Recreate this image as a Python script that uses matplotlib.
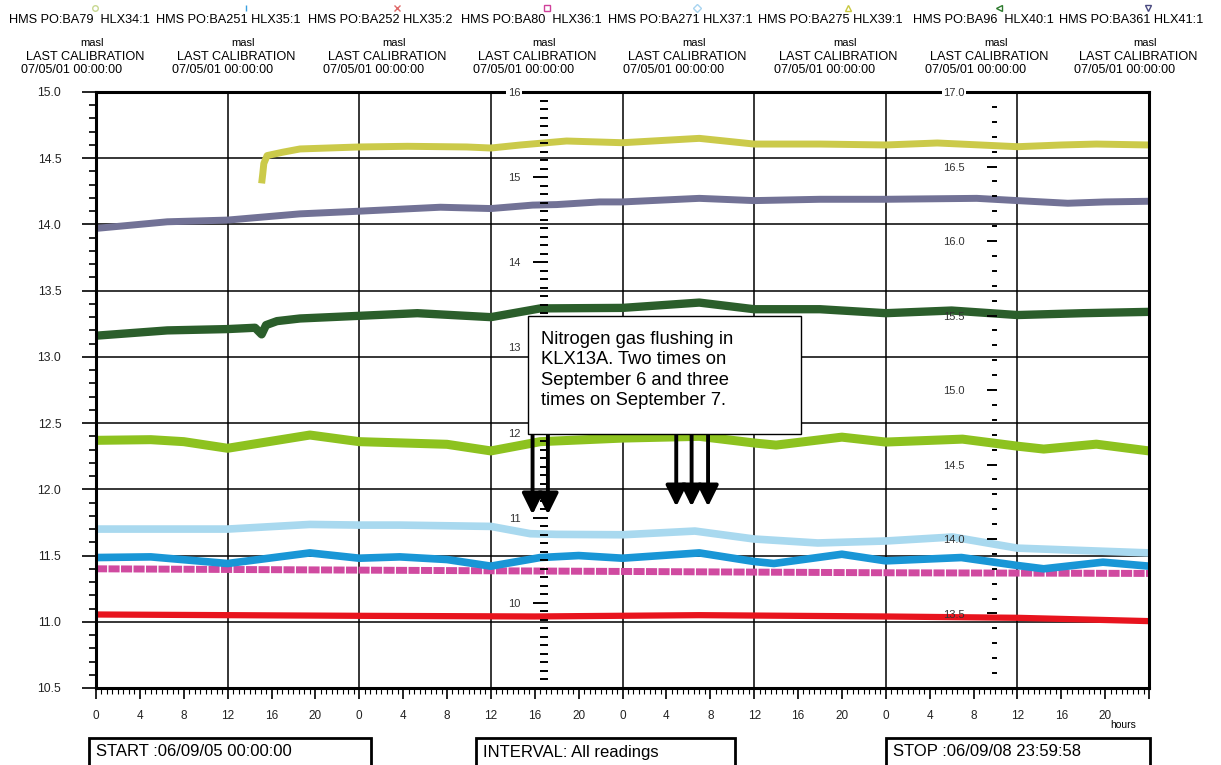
import numpy as np
import matplotlib.pyplot as plt
from matplotlib.patches import Rectangle
from matplotlib.lines import Line2D
from matplotlib.ticker import MultipleLocator, FixedLocator, FuncFormatter

plt.rcParams['font.family'] = ['Liberation Sans', 'DejaVu Sans']

# ---- data (hours after 06/09/05 00:00, masl) ----
ba79_h = [0, 5, 8, 12, 19.5, 24, 28, 32, 36, 40.5, 48, 55, 60, 62, 68, 72, 79, 84, 86.4, 91.2, 96]
ba79_v = [12.37, 12.375, 12.36, 12.31, 12.41, 12.36, 12.35, 12.34, 12.29, 12.36, 12.387, 12.40,
          12.35, 12.334, 12.394, 12.357, 12.379, 12.326, 12.304, 12.341, 12.29]

ba251_h = [0, 5, 12, 19.5, 24, 27.7, 32, 36, 40.5, 44, 48, 55, 60, 61.8, 68, 72, 78.9, 84, 86.4, 91.8, 96]
ba251_v = [11.485, 11.49, 11.44, 11.52, 11.48, 11.49, 11.47, 11.42, 11.485, 11.50, 11.48, 11.52,
           11.455, 11.44, 11.51, 11.46, 11.485, 11.425, 11.40, 11.45, 11.42]

ba252_h = [0, 24, 40, 55, 72, 84, 96]
ba252_v = [11.055, 11.045, 11.04, 11.05, 11.04, 11.03, 11.005]

ba80_h = [0, 24, 48, 72, 96]
ba80_v = [11.40, 11.39, 11.38, 11.37, 11.365]

ba271_h = [0, 12, 19.5, 24, 27.7, 36, 39.6, 42, 48, 54.6, 60, 65.8, 72, 78.1, 84, 96]
ba271_v = [11.70, 11.70, 11.735, 11.73, 11.73, 11.72, 11.665, 11.66, 11.657, 11.685, 11.625,
           11.595, 11.61, 11.64, 11.556, 11.52]

ba275_h = [15.1, 15.2, 15.3, 15.6, 17, 18.6, 24, 28.4, 33.8, 36, 38.7, 42.9, 48, 55, 60, 66,
           72, 76.7, 84, 88, 91.2, 96]
ba275_v = [14.31, 14.38, 14.46, 14.52, 14.545, 14.57, 14.585, 14.59, 14.585, 14.577, 14.60,
           14.63, 14.617, 14.65, 14.607, 14.607, 14.60, 14.615, 14.587, 14.60, 14.607, 14.60]

ba96_h = [0, 6.5, 12, 14.5, 15.1, 15.5, 16.5, 18.6, 24, 29.3, 36, 40.5, 48, 55, 60, 66, 72, 78,
          84, 90, 96]
ba96_v = [13.16, 13.20, 13.21, 13.22, 13.17, 13.24, 13.27, 13.29, 13.31, 13.33, 13.30, 13.366,
          13.37, 13.41, 13.36, 13.36, 13.33, 13.35, 13.316, 13.33, 13.34]

ba361_h = [0, 6.5, 12, 18.6, 24, 31.4, 36, 39.8, 42, 45.9, 48, 55, 60, 66, 72, 80.3, 84, 88.6, 92, 96]
ba361_v = [13.97, 14.02, 14.033, 14.08, 14.10, 14.13, 14.12, 14.146, 14.15, 14.17, 14.17, 14.197,
           14.18, 14.19, 14.19, 14.197, 14.18, 14.16, 14.17, 14.175]

header_names = ['HMS PO:BA79  HLX34:1', 'HMS PO:BA251 HLX35:1', 'HMS PO:BA252 HLX35:2',
                'HMS PO:BA80  HLX36:1', 'HMS PO:BA271 HLX37:1', 'HMS PO:BA275 HLX39:1',
                'HMS PO:BA96  HLX40:1', 'HMS PO:BA361 HLX41:1']
header_markers = ['o', '|', 'x', 's', 'D', '^', '<', 'v']
header_colors = ['#c8d890', '#3aa0e0', '#e06a6a', '#d0409a', '#a8d4f0', '#c8c840', '#2d7a2d', '#4a4a80']

# nitrogen flushing events (hour of arrow)
flush_sep6 = [39.8, 41.2]
flush_sep7 = [52.9, 54.3, 55.8]

W, H = 1221, 765
def fx(px):
    return px / W
def fy(py):
    return 1 - py / H

fig = plt.figure(figsize=(12.21, 7.65), dpi=100)
ax = fig.add_axes([fx(96), fy(688), fx(1149) - fx(96), fy(92) - fy(688)])

series = [
    (ba79_h, ba79_v, '#8dc21f', 6.5, '-'),
    (ba271_h, ba271_v, '#a9d9ef', 5.5, '-'),
    (ba80_h, ba80_v, '#d04aa0', 5, (0, (1.6, 0.2))),
    (ba251_h, ba251_v, '#1996d6', 5.5, '-'),
    (ba252_h, ba252_v, '#e8141e', 4.5, '-'),
    (ba361_h, ba361_v, '#727296', 5, '-'),
    (ba96_h, ba96_v, '#2b5e2b', 6, '-'),
    (ba275_h, ba275_v, '#cbca4a', 5, '-'),
]
for h, v, c, lw, ls in series:
    ax.plot(h, v, color=c, lw=lw, ls=ls, solid_capstyle='butt', dash_capstyle='butt', zorder=2)

ax.set_xlim(0, 96)
ax.set_ylim(10.5, 15.0)
ax.set_axisbelow(True)
ax.grid(axis='y', which='major', color='black', lw=1.1)
for h in np.arange(12, 96, 12):
    ax.axvline(h, color='black', lw=1.1, zorder=1)

ax.yaxis.set_major_locator(MultipleLocator(0.5))
ax.yaxis.set_minor_locator(MultipleLocator(0.1))
ax.yaxis.set_major_formatter(FuncFormatter(lambda v, p: f'{v:.1f}'))
ax.tick_params(axis='y', which='major', length=10, width=1.2, pad=15, labelsize=8.8, labelcolor='#222')
ax.tick_params(axis='y', which='minor', length=5, width=1.2)

ax.xaxis.set_major_locator(MultipleLocator(4))
ax.xaxis.set_minor_locator(MultipleLocator(0.5))
ax.xaxis.set_major_formatter(FuncFormatter(lambda h, p: '' if h >= 96 else f'{int(round(h)) % 24}'))
ax.tick_params(axis='x', which='major', length=8, width=1.2, pad=8, labelsize=8.5, labelcolor='#222')
ax.tick_params(axis='x', which='minor', length=4.5, width=0.8)
for s in ax.spines.values():
    s.set_linewidth(2.2)

def side_axis(frac, lo, hi, majors, fmt, majlen, minlen, pad):
    a = ax.twinx()
    a.set_ylim(lo, hi)
    for s in a.spines.values():
        s.set_visible(False)
    a.spines['left'].set_position(('axes', frac))
    a.yaxis.set_ticks_position('left')
    a.yaxis.set_label_position('left')
    a.yaxis.set_major_locator(FixedLocator(majors))
    a.yaxis.set_minor_locator(MultipleLocator(0.1))
    a.yaxis.set_major_formatter(FuncFormatter(lambda v, p: fmt.format(v)))
    a.tick_params(axis='y', which='major', length=majlen, width=1.4, pad=pad, labelsize=8, labelcolor='#333')
    a.tick_params(axis='y', which='minor', length=minlen, width=1.4)
    a.get_yticklabels()[-1].set_bbox(dict(fc='white', ec='none', pad=1))
    return a

side_axis((548 - 96) / 1053, 9, 16, np.arange(10, 17), '{:.0f}', 11, 6, 9)
side_axis((997 - 96) / 1053, 13, 17, np.arange(13.5, 17.01, 0.5), '{:.1f}', 7, 3.5, 16)

# header
right_edges = [150, 301, 452, 602, 752, 903, 1054, 1203]
for e, name, m, c in zip(right_edges, header_names, header_markers, header_colors):
    fig.add_artist(Line2D([fx(e - 55)], [fy(8)], marker=m, ms=4, mfc='none', mec=c, mew=1,
                          transform=fig.transFigure))
    fig.text(fx(e), fy(20), name, ha='right', va='center', fontsize=9.2)
    fig.text(fx(e - 58), fy(43), 'masl', ha='center', va='center', fontsize=8)
    fig.text(fx(e - 124), fy(57), 'LAST CALIBRATION', ha='left', va='center', fontsize=9.2)
    fig.text(fx(e - 129), fy(70), '07/05/01 00:00:00', ha='left', va='center', fontsize=9)

fig.text(fx(1123), fy(725), 'hours', ha='center', va='center', fontsize=7.5)

# annotation box + arrows
fig.add_artist(Rectangle((fx(528), fy(434)), fx(801) - fx(528), fy(316) - fy(434),
                         transform=fig.transFigure, fc='white', ec='black', lw=1, zorder=5))
fig.text(fx(541), fy(331), 'Nitrogen gas flushing in\nKLX13A. Two times on\nSeptember 6 and three\ntimes on September 7.',
         ha='left', va='top', fontsize=13.2, linespacing=1.26, zorder=6)
arrow_top = 12.42
for hours, tip in [(flush_sep6, 11.81), (flush_sep7, 11.87)]:
    for h in hours:
        ax.annotate('', xy=(h, tip), xytext=(h, arrow_top),
                    arrowprops=dict(arrowstyle='-|>,head_length=0.85,head_width=0.42', lw=2.8,
                                    color='black', mutation_scale=15, shrinkA=0, shrinkB=0),
                    zorder=4)

# bottom info boxes
for x0, x1, label in [(89, 371, 'START :06/09/05 00:00:00'), (476, 735, 'INTERVAL: All readings'),
                      (886, 1150, 'STOP :06/09/08 23:59:58')]:
    fig.add_artist(Rectangle((fx(x0), fy(775)), fx(x1) - fx(x0), fy(738) - fy(775),
                             transform=fig.transFigure, fc='white', ec='black', lw=2))
    fig.text(fx(x0 + 7), fy(752), label, ha='left', va='center', fontsize=12)

fig.savefig('out.png', dpi=100)
